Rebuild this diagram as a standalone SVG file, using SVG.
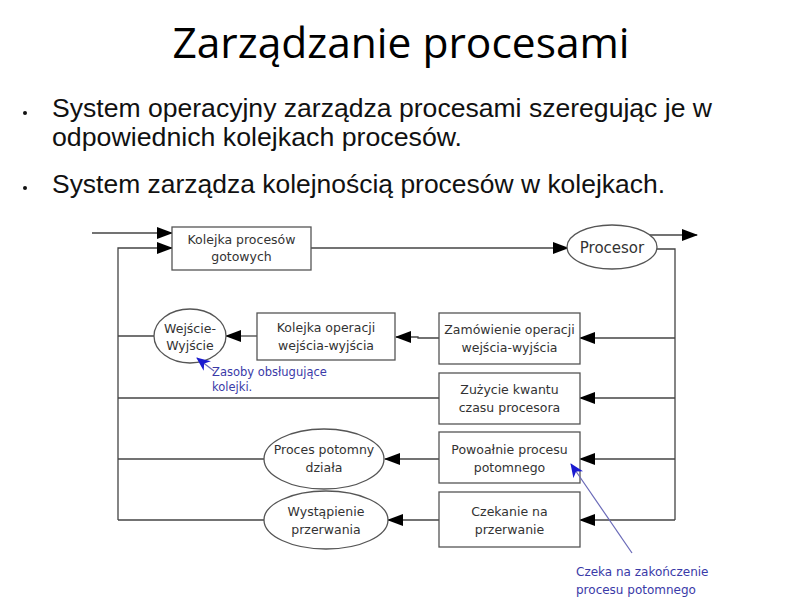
<svg xmlns="http://www.w3.org/2000/svg" width="800" height="600" viewBox="0 0 800 600">
<defs>
<marker id="ah" markerWidth="16" markerHeight="12" refX="15" refY="6" orient="auto" markerUnits="userSpaceOnUse">
<path d="M0,0 L16,6 L0,12 Z" fill="#000"/>
</marker>
<marker id="bh" markerWidth="14" markerHeight="12" refX="13" refY="6" orient="auto" markerUnits="userSpaceOnUse">
<path d="M0,0 L14,6 L0,12 L4,6 Z" fill="#1a1ad0"/>
</marker>
<style>
.title{font-family:"Open Sans","Liberation Sans",sans-serif;font-size:42.5px;fill:#000}
.bul{font-family:"Liberation Sans",Arial,sans-serif;font-size:25px;fill:#111}
.box{fill:#fff;stroke:#555;stroke-width:1.3}
.lbl{font-family:"DejaVu Sans",Verdana,sans-serif;font-size:12.5px;fill:#333;text-anchor:middle}
.ln{fill:none;stroke:#444;stroke-width:1.3}
.arr{fill:none;stroke:#444;stroke-width:1.3;marker-end:url(#ah)}
.note{font-family:"DejaVu Sans",Verdana,sans-serif;font-size:11.5px;fill:#3a3aa8}
.bl{fill:none;stroke:#6a6ab8;stroke-width:1.2;marker-end:url(#bh)}
</style>
</defs>
<rect width="800" height="600" fill="#fff"/>
<text class="title" x="401" y="58" text-anchor="middle">Zarządzanie procesami</text>
<g id="bullets">
<circle cx="25" cy="113" r="2" fill="#111"/>
<text class="bul" x="52" y="117" textLength="660" lengthAdjust="spacingAndGlyphs">System operacyjny zarządza procesami szeregując je w</text>
<text class="bul" x="52" y="146" textLength="410" lengthAdjust="spacingAndGlyphs">odpowiednich kolejkach procesów.</text>
<circle cx="25" cy="188" r="2" fill="#111"/>
<text class="bul" x="52" y="193" textLength="613" lengthAdjust="spacingAndGlyphs">System zarządza kolejnością procesów w kolejkach.</text>
</g>
<g id="connectors">
<path class="arr" d="M92,233 H172"/>
<path class="arr" d="M118,520 V248 H172"/>
<path class="arr" d="M311,248 H568"/>
<path class="arr" d="M650,235 H697"/>
<path class="ln" d="M656,249 H675 V520"/>
<path class="arr" d="M675,338 H580"/>
<path class="arr" d="M675,398 H580"/>
<path class="arr" d="M675,459 H580"/>
<path class="arr" d="M675,520 H580"/>
<path class="arr" d="M439,338 H418 V337 H396"/>
<path class="arr" d="M257,336 H226"/>
<path class="ln" d="M154,336 H118"/>
<path class="ln" d="M439,398 H118"/>
<path class="arr" d="M439,459 H385"/>
<path class="ln" d="M264,459 H118"/>
<path class="arr" d="M439,520 H388"/>
<path class="ln" d="M264,520 H118"/>
</g>
<g id="kolejka-gotowych">
<rect class="box" x="172" y="227" width="139" height="43"/>
<text class="lbl" x="241.5" y="244">Kolejka procesów</text>
<text class="lbl" x="241.5" y="261">gotowych</text>
</g>
<g id="procesor">
<ellipse class="box" cx="612" cy="247" rx="45" ry="22"/>
<text class="lbl" x="612" y="253" style="font-size:15px">Procesor</text>
</g>
<g id="zamowienie">
<rect class="box" x="439" y="313" width="141" height="51"/>
<text class="lbl" x="509.5" y="334">Zamówienie operacji</text>
<text class="lbl" x="509.5" y="352">wejścia-wyjścia</text>
</g>
<g id="kolejka-io">
<rect class="box" x="257" y="313" width="138" height="47"/>
<text class="lbl" x="326" y="332">Kolejka operacji</text>
<text class="lbl" x="326" y="350">wejścia-wyjścia</text>
</g>
<g id="we-wy">
<ellipse class="box" cx="190" cy="336" rx="36" ry="27"/>
<text class="lbl" x="190" y="333">Wejście-</text>
<text class="lbl" x="190" y="350">Wyjście</text>
</g>
<g id="zuzycie">
<rect class="box" x="439" y="373" width="141" height="51"/>
<text class="lbl" x="509.5" y="394">Zużycie kwantu</text>
<text class="lbl" x="509.5" y="412">czasu procesora</text>
</g>
<g id="powolanie">
<rect class="box" x="439" y="432" width="141" height="51"/>
<text class="lbl" x="509.5" y="454">Powoałnie procesu</text>
<text class="lbl" x="509.5" y="472">potomnego</text>
</g>
<g id="potomny">
<ellipse class="box" cx="324" cy="459" rx="60" ry="30"/>
<text class="lbl" x="324" y="454">Proces potomny</text>
<text class="lbl" x="324" y="472">działa</text>
</g>
<g id="czekanie">
<rect class="box" x="439" y="492" width="141" height="55"/>
<text class="lbl" x="509.5" y="516">Czekanie na</text>
<text class="lbl" x="509.5" y="534">przerwanie</text>
</g>
<g id="przerwanie">
<ellipse class="box" cx="326" cy="520" rx="62" ry="29"/>
<text class="lbl" x="326" y="516">Wystąpienie</text>
<text class="lbl" x="326" y="534">przerwania</text>
</g>
<g id="notes">
<path class="bl" d="M214,371 L197,358"/>
<text class="note" x="212" y="376">Zasoby obsługujące</text>
<text class="note" x="212" y="391">kolejki.</text>
<path class="bl" d="M632,553 L571,464"/>
<text class="note" x="576" y="576" style="font-size:12px">Czeka na zakończenie</text>
<text class="note" x="576" y="594" style="font-size:12px">procesu potomnego</text>
</g>
</svg>
